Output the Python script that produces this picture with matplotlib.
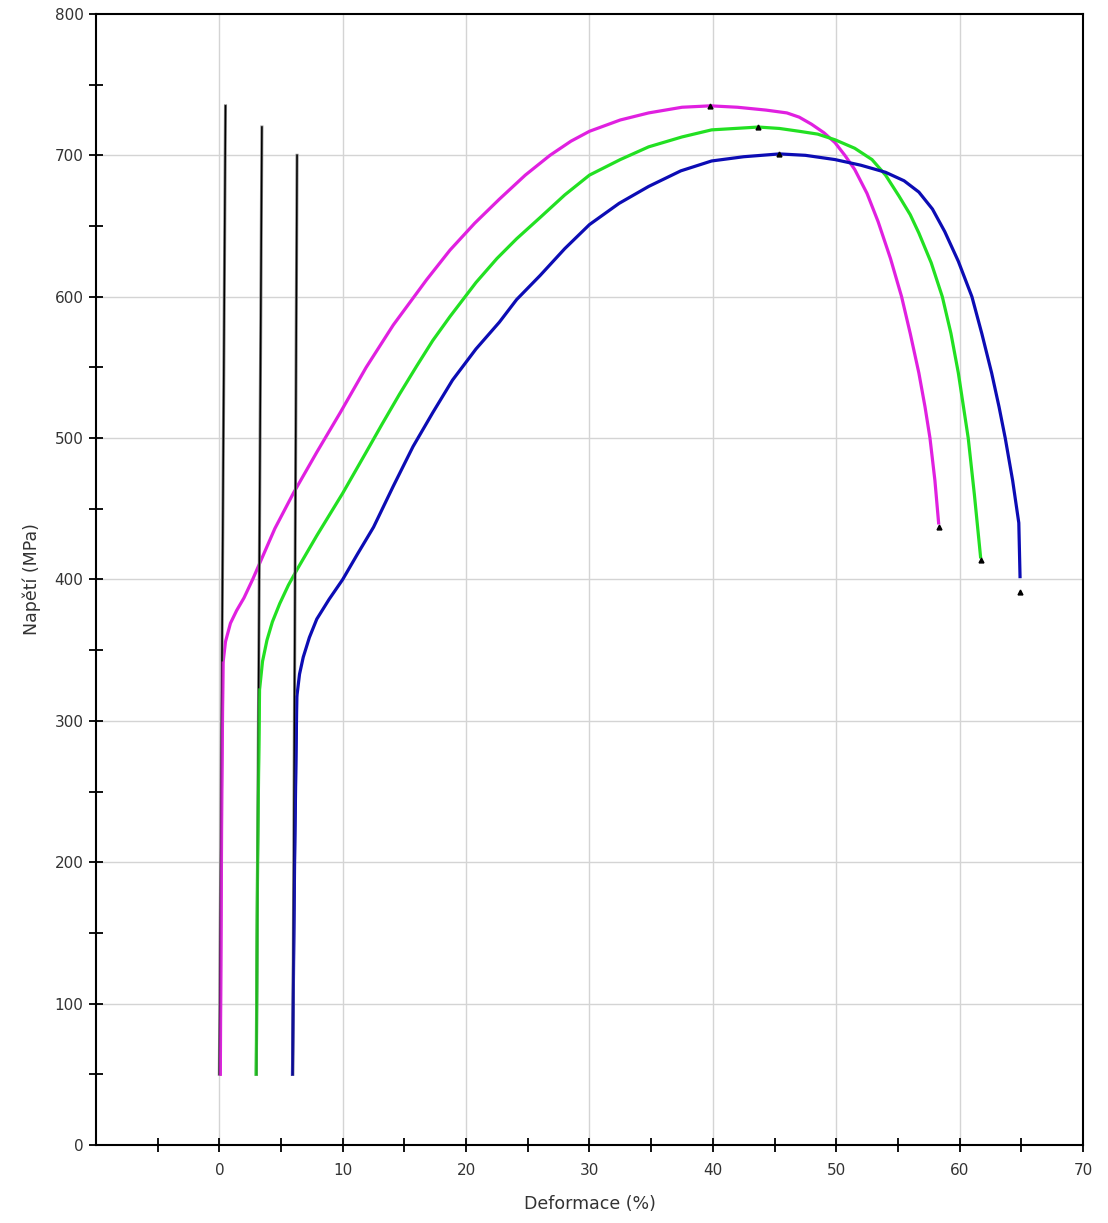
import matplotlib
matplotlib.use("Agg")
import matplotlib.pyplot as plt
from matplotlib.ticker import FixedLocator, NullFormatter

# specimen curves: strain (%) and stress (MPa)
pink_x = [0.08, 0.2, 0.3, 0.5, 0.9, 1.4, 2.0, 2.7, 3.3, 4.5, 6.0, 7.9, 9.8, 11.9, 14.1,
          16.8, 18.7, 20.7, 22.7, 24.8, 26.8, 28.5, 30.0, 32.5, 34.8, 37.5, 39.8, 42.0,
          44.3, 46.0, 47.0, 48.0, 49.0, 49.9, 50.7, 51.5, 52.5, 53.4, 54.4, 55.3, 56.0,
          56.7, 57.2, 57.6, 58.0, 58.3]
pink_y = [50, 250, 341, 356, 369, 378, 387, 400, 412, 436, 461, 490, 518, 550, 580,
          612, 633, 652, 669, 686, 700, 710, 717, 725, 730, 734, 735, 734,
          732, 730, 727, 722, 716, 709, 700, 690, 673, 653, 627, 600, 574,
          546, 522, 500, 470, 440]

green_x = [2.99, 3.1, 3.26, 3.5, 3.86, 4.3, 4.9, 5.6, 6.3, 7.9, 10.0, 11.9, 13.2, 14.6,
           16.0, 17.3, 18.7, 20.8, 22.5, 24.1, 26.0, 28.0, 30.0, 32.5, 34.8, 37.5, 39.9,
           41.8, 43.7, 45.4, 47.0, 48.5, 49.9, 51.5, 52.9, 54.0, 55.1, 56.0, 56.7, 57.7,
           58.6, 59.3, 59.9, 60.3, 60.7, 61.2, 61.7]
green_y = [50, 200, 322, 342, 357, 370, 383, 396, 407, 431, 461, 490, 510, 531,
           551, 569, 586, 610, 627, 641, 656, 672, 686, 697, 706, 713, 718,
           719, 720, 719, 717, 715, 711, 705, 697, 686, 671, 658, 645, 624,
           600, 574, 546, 523, 500, 460, 416]

blue_x = [5.93, 6.1, 6.28, 6.5, 6.8, 7.3, 7.9, 8.9, 10.0, 11.2, 12.5, 14.1, 15.7, 17.3,
          18.9, 20.8, 22.7, 24.1, 26.0, 28.0, 30.0, 32.4, 34.8, 37.4, 39.9, 42.5, 45.4,
          47.5, 49.9, 52.0, 54.0, 55.5, 56.7, 57.8, 58.8, 59.9, 61.0, 61.8, 62.6, 63.2,
          63.7, 64.3, 64.8, 64.9]
blue_y = [50, 200, 317, 333, 345, 359, 372, 386, 400, 418, 437, 466, 494, 518,
          541, 563, 582, 598, 615, 634, 651, 666, 678, 689, 696, 699, 701,
          700, 697, 693, 688, 682, 674, 662, 646, 625, 600, 574, 546, 522,
          500, 470, 440, 402]

# peak (Rm) and break points, marked with small triangles
peak_x = [39.8, 43.7, 45.4]
peak_y = [735, 720, 701]
break_x = [58.3, 61.7, 64.9]
break_y = [437, 414, 391]

# straight elastic lines
ext_x0 = [0.0, 3.0, 5.95]
ext_x1 = [0.5, 3.45, 6.3]
ext_y0 = [50, 50, 50]
ext_y1 = [735, 720, 700]

colors = ['#e020e0', '#22e022', '#0c0cb4']
txt = '#333333'

fig = plt.figure(figsize=(11.08, 12.23), dpi=100)
ax = fig.add_axes([0.0866, 0.0638, 0.8908, 0.9248])

curves = list(zip([pink_x, green_x, blue_x], [pink_y, green_y, blue_y], colors))
for xs, ys, c in curves:
    ax.plot(xs, ys, color=c, lw=2.3, zorder=3)

for x0, x1, y0, y1 in zip(ext_x0, ext_x1, ext_y0, ext_y1):
    ax.plot([x0, x1], [y0, y1], color='#8a8a8a', lw=2.2, zorder=4)
    ax.plot([x0, x1], [y0, y1], color='black', lw=1.1, zorder=5)

# the steep elastic part of each curve stays visible on top
for xs, ys, c in curves:
    ax.plot(xs[:3], ys[:3], color=c, lw=2.0, alpha=0.8, zorder=6)

ax.plot(peak_x, peak_y, '^', color='black', ms=3.5, zorder=7)
ax.plot(break_x, break_y, '^', color='black', ms=3.5, zorder=7)

ax.set_xlim(-10, 70)
ax.set_ylim(0, 800)

ax.xaxis.set_major_locator(FixedLocator(list(range(0, 71, 10))))
ax.xaxis.set_minor_locator(FixedLocator(list(range(-5, 70, 10))))
ax.yaxis.set_major_locator(FixedLocator(list(range(0, 801, 100))))
ax.yaxis.set_minor_locator(FixedLocator(list(range(50, 800, 100))))
ax.xaxis.set_minor_formatter(NullFormatter())

ax.tick_params(which='both', direction='inout', length=10, width=1.3, color='black',
               labelsize=11, labelcolor=txt, top=False, right=False)
ax.tick_params(axis='x', which='major', pad=8)
ax.tick_params(axis='y', which='major', pad=4)

for x in range(0, 61, 10):
    ax.axvline(x, color='#d4d4d4', lw=1, zorder=1)
for y in range(100, 701, 100):
    ax.axhline(y, color='#d4d4d4', lw=1, zorder=1)

for s in ax.spines.values():
    s.set_linewidth(1.5)
    s.set_color('black')

ax.set_xlabel('Deformace (%)', fontsize=12.5, color=txt, labelpad=12)
ax.set_ylabel('Napětí (MPa)', fontsize=12.5, color=txt, labelpad=10)

fig.savefig('out.png', dpi=100, facecolor='white')
